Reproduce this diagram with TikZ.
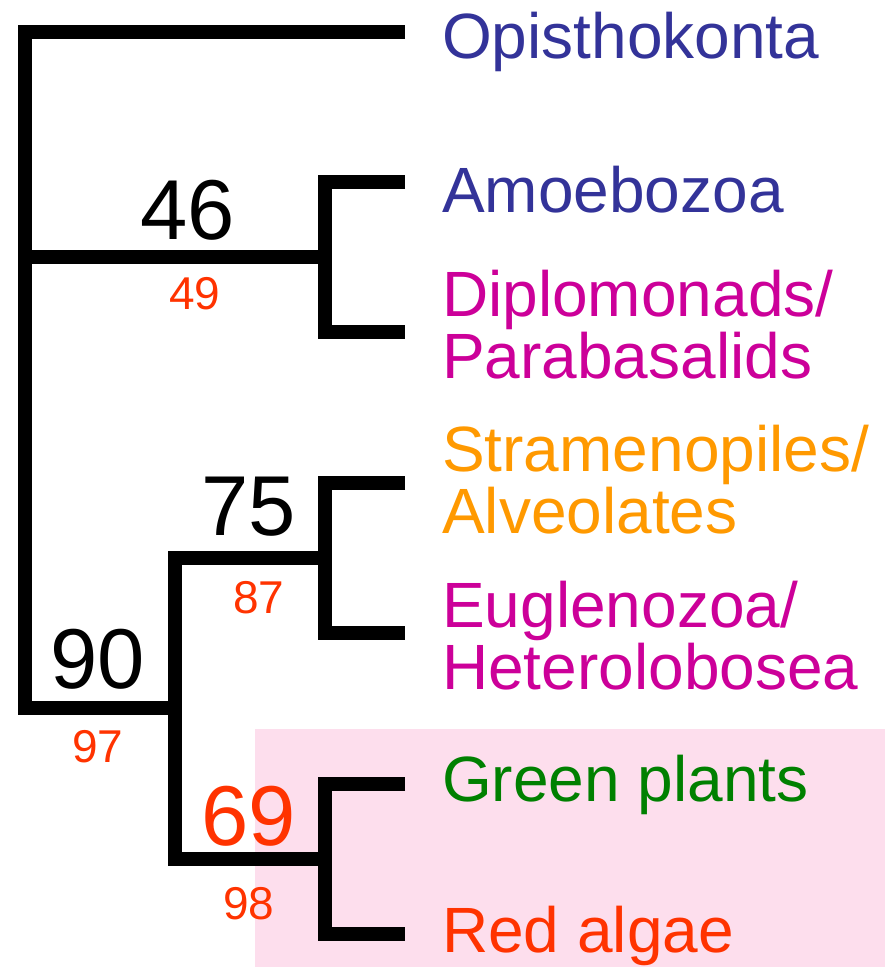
\documentclass[tikz,border=0pt]{standalone}
\usepackage{fontspec}
\setmainfont{Liberation Sans}
\definecolor{clblue}{RGB}{51,51,153}
\definecolor{clmag}{RGB}{204,0,153}
\definecolor{clorange}{RGB}{255,153,0}
\definecolor{clgreen}{RGB}{0,128,0}
\definecolor{clred}{RGB}{255,51,0}
\definecolor{clpink}{RGB}{253,222,237}
\tikzset{
  branch/.style={draw=black,line width=13.5pt,line cap=butt,line join=miter},
  taxon/.style={anchor=base west,inner sep=0pt,align=left,font=\fontsize{64}{61.5}\selectfont},
  bigsup/.style={anchor=base,inner sep=0pt,font=\fontsize{85}{85}\selectfont},
  smallsup/.style={anchor=base,inner sep=0pt,text=clred,font=\fontsize{46}{46}\selectfont}
}
\begin{document}
\begin{tikzpicture}[x=1pt,y=-1pt]
\useasboundingbox (0,0) rectangle (885,967);
\fill[clpink] (255,729) rectangle (885,967);
% coordinates
\coordinate (rootTop) at (25,32);
\coordinate (rootBot) at (25,708);
\coordinate (tipOpi) at (405,32);
\coordinate (n46) at (325,257);
\coordinate (tipAmo) at (405,182);
\coordinate (tipDip) at (405,332);
\coordinate (n90) at (175,708);
\coordinate (n75) at (325,558);
\coordinate (tipStr) at (405,483);
\coordinate (tipEug) at (405,633);
\coordinate (n69) at (325,859);
\coordinate (tipGre) at (405,784);
\coordinate (tipRed) at (405,934);
% branches
\draw[branch] (tipOpi) -- (rootTop) -- (rootBot) -- (n90);
\draw[branch] (rootTop|-n46) -- (n46);
\draw[branch] (tipAmo) -| (n46) |- (tipDip);
\draw[branch] (n75) -| (n90) |- (n69);
\draw[branch] (tipStr) -| (n75) |- (tipEug);
\draw[branch] (tipGre) -| (n69) |- (tipRed);
% support values
\node[bigsup] (s46) at (188,239) {46};
\node[smallsup] (b49) at (195,309) {49};
\node[bigsup] (s75) at (249,535) {75};
\node[smallsup] (b87) at (259,613) {87};
\node[bigsup] (s90) at (98,688) {90};
\node[smallsup] (b97) at (98,762) {97};
\node[bigsup,text=clred] (s69) at (249,845) {69};
\node[smallsup] (b98) at (249,919) {98};
% taxa (multi-line nodes: base anchor is the last line's baseline)
\node[taxon,text=clblue] (lOpi) at (442,58) {Opisthokonta};
\node[taxon,text=clblue] (lAmo) at (442,212) {Amoebozoa};
\node[taxon,text=clmag] (lDip) at (442,378) {Diplomonads/\\Parabasalids};
\node[taxon,text=clorange] (lStr) at (442,533) {Stramenopiles/\\Alveolates};
\node[taxon,text=clmag] (lEug) at (442,689) {Euglenozoa/\\Heterolobosea};
\node[taxon,text=clgreen] (lGre) at (442,801) {Green plants};
\node[taxon,text=clred] (lRed) at (442,952) {Red algae};
\end{tikzpicture}
\end{document}
